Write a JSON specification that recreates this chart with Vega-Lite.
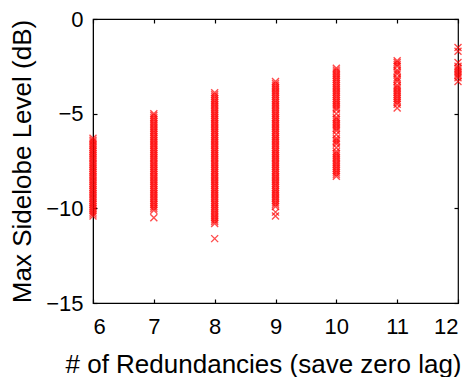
{
  "$schema": "https://vega.github.io/schema/vega-lite/v6.json",
  "width": 365,
  "height": 284,
  "autosize": {"type": "none"},
  "padding": {"left": 93, "top": 19, "right": 15, "bottom": 74},
  "background": "white",
  "data": {"values": [
    {"n":6,"v":-6.3},{"n":6,"v":-6.4},{"n":6,"v":-6.5},{"n":6,"v":-6.6},{"n":6,"v":-6.7},{"n":6,"v":-6.8},{"n":6,"v":-6.9},{"n":6,"v":-7.0},{"n":6,"v":-7.1},{"n":6,"v":-7.2},{"n":6,"v":-7.3},{"n":6,"v":-7.4},{"n":6,"v":-7.5},{"n":6,"v":-7.6},{"n":6,"v":-7.7},{"n":6,"v":-7.8},{"n":6,"v":-7.9},{"n":6,"v":-8.0},{"n":6,"v":-8.1},{"n":6,"v":-8.2},{"n":6,"v":-8.3},{"n":6,"v":-8.4},{"n":6,"v":-8.5},{"n":6,"v":-8.6},{"n":6,"v":-8.7},{"n":6,"v":-8.8},{"n":6,"v":-8.9},{"n":6,"v":-9.0},{"n":6,"v":-9.1},{"n":6,"v":-9.2},{"n":6,"v":-9.3},{"n":6,"v":-9.4},{"n":6,"v":-9.5},{"n":6,"v":-9.6},{"n":6,"v":-9.7},{"n":6,"v":-9.8},{"n":6,"v":-9.9},{"n":6,"v":-10.0},{"n":6,"v":-10.1},{"n":6,"v":-10.2},{"n":6,"v":-10.3},{"n":6,"v":-10.4},
    {"n":7,"v":-5.0},{"n":7,"v":-5.1},{"n":7,"v":-5.2},{"n":7,"v":-5.3},{"n":7,"v":-5.4},{"n":7,"v":-5.5},{"n":7,"v":-5.6},{"n":7,"v":-5.7},{"n":7,"v":-5.8},{"n":7,"v":-5.9},{"n":7,"v":-6.0},{"n":7,"v":-6.1},{"n":7,"v":-6.2},{"n":7,"v":-6.3},{"n":7,"v":-6.4},{"n":7,"v":-6.5},{"n":7,"v":-6.6},{"n":7,"v":-6.7},{"n":7,"v":-6.8},{"n":7,"v":-6.9},{"n":7,"v":-7.0},{"n":7,"v":-7.1},{"n":7,"v":-7.2},{"n":7,"v":-7.3},{"n":7,"v":-7.4},{"n":7,"v":-7.5},{"n":7,"v":-7.6},{"n":7,"v":-7.7},{"n":7,"v":-7.8},{"n":7,"v":-7.9},{"n":7,"v":-8.0},{"n":7,"v":-8.1},{"n":7,"v":-8.2},{"n":7,"v":-8.3},{"n":7,"v":-8.4},{"n":7,"v":-8.5},{"n":7,"v":-8.6},{"n":7,"v":-8.7},{"n":7,"v":-8.8},{"n":7,"v":-8.9},{"n":7,"v":-9.0},{"n":7,"v":-9.1},{"n":7,"v":-9.2},{"n":7,"v":-9.3},{"n":7,"v":-9.4},{"n":7,"v":-9.5},{"n":7,"v":-9.6},{"n":7,"v":-9.7},{"n":7,"v":-9.8},{"n":7,"v":-9.9},{"n":7,"v":-10.0},{"n":7,"v":-10.1},{"n":7,"v":-10.5},
    {"n":8,"v":-3.9},{"n":8,"v":-4.0},{"n":8,"v":-4.1},{"n":8,"v":-4.2},{"n":8,"v":-4.3},{"n":8,"v":-4.4},{"n":8,"v":-4.5},{"n":8,"v":-4.6},{"n":8,"v":-4.7},{"n":8,"v":-4.8},{"n":8,"v":-4.9},{"n":8,"v":-5.0},{"n":8,"v":-5.1},{"n":8,"v":-5.2},{"n":8,"v":-5.3},{"n":8,"v":-5.4},{"n":8,"v":-5.5},{"n":8,"v":-5.6},{"n":8,"v":-5.7},{"n":8,"v":-5.8},{"n":8,"v":-5.9},{"n":8,"v":-6.0},{"n":8,"v":-6.1},{"n":8,"v":-6.2},{"n":8,"v":-6.3},{"n":8,"v":-6.4},{"n":8,"v":-6.5},{"n":8,"v":-6.6},{"n":8,"v":-6.7},{"n":8,"v":-6.8},{"n":8,"v":-6.9},{"n":8,"v":-7.0},{"n":8,"v":-7.1},{"n":8,"v":-7.2},{"n":8,"v":-7.3},{"n":8,"v":-7.4},{"n":8,"v":-7.5},{"n":8,"v":-7.6},{"n":8,"v":-7.7},{"n":8,"v":-7.8},{"n":8,"v":-7.9},{"n":8,"v":-8.0},{"n":8,"v":-8.1},{"n":8,"v":-8.2},{"n":8,"v":-8.3},{"n":8,"v":-8.4},{"n":8,"v":-8.5},{"n":8,"v":-8.6},{"n":8,"v":-8.7},{"n":8,"v":-8.8},{"n":8,"v":-8.9},{"n":8,"v":-9.0},{"n":8,"v":-9.1},{"n":8,"v":-9.2},{"n":8,"v":-9.3},{"n":8,"v":-9.4},{"n":8,"v":-9.5},{"n":8,"v":-9.6},{"n":8,"v":-9.7},{"n":8,"v":-9.8},{"n":8,"v":-9.9},{"n":8,"v":-10.0},{"n":8,"v":-10.1},{"n":8,"v":-10.2},{"n":8,"v":-10.3},{"n":8,"v":-10.4},{"n":8,"v":-10.5},{"n":8,"v":-10.6},{"n":8,"v":-10.7},{"n":8,"v":-10.8},{"n":8,"v":-11.6},
    {"n":9,"v":-3.3},{"n":9,"v":-3.4},{"n":9,"v":-3.5},{"n":9,"v":-3.6},{"n":9,"v":-3.7},{"n":9,"v":-3.8},{"n":9,"v":-3.9},{"n":9,"v":-4.0},{"n":9,"v":-4.1},{"n":9,"v":-4.2},{"n":9,"v":-4.3},{"n":9,"v":-4.4},{"n":9,"v":-4.5},{"n":9,"v":-4.6},{"n":9,"v":-4.7},{"n":9,"v":-4.8},{"n":9,"v":-4.9},{"n":9,"v":-5.0},{"n":9,"v":-5.1},{"n":9,"v":-5.2},{"n":9,"v":-5.3},{"n":9,"v":-5.4},{"n":9,"v":-5.5},{"n":9,"v":-5.6},{"n":9,"v":-5.7},{"n":9,"v":-5.8},{"n":9,"v":-5.9},{"n":9,"v":-6.0},{"n":9,"v":-6.1},{"n":9,"v":-6.2},{"n":9,"v":-6.3},{"n":9,"v":-6.4},{"n":9,"v":-6.5},{"n":9,"v":-6.6},{"n":9,"v":-6.7},{"n":9,"v":-6.8},{"n":9,"v":-6.9},{"n":9,"v":-7.0},{"n":9,"v":-7.1},{"n":9,"v":-7.2},{"n":9,"v":-7.3},{"n":9,"v":-7.4},{"n":9,"v":-7.5},{"n":9,"v":-7.6},{"n":9,"v":-7.7},{"n":9,"v":-7.8},{"n":9,"v":-7.9},{"n":9,"v":-8.0},{"n":9,"v":-8.1},{"n":9,"v":-8.2},{"n":9,"v":-8.3},{"n":9,"v":-8.4},{"n":9,"v":-8.5},{"n":9,"v":-8.6},{"n":9,"v":-8.7},{"n":9,"v":-8.8},{"n":9,"v":-8.9},{"n":9,"v":-9.0},{"n":9,"v":-9.1},{"n":9,"v":-9.2},{"n":9,"v":-9.3},{"n":9,"v":-9.4},{"n":9,"v":-9.5},{"n":9,"v":-9.6},{"n":9,"v":-9.7},{"n":9,"v":-9.8},{"n":9,"v":-9.9},{"n":9,"v":-10.2},{"n":9,"v":-10.4},
    {"n":10,"v":-2.6},{"n":10,"v":-2.7},{"n":10,"v":-2.8},{"n":10,"v":-2.9},{"n":10,"v":-3.0},{"n":10,"v":-3.1},{"n":10,"v":-3.2},{"n":10,"v":-3.3},{"n":10,"v":-3.4},{"n":10,"v":-3.5},{"n":10,"v":-3.6},{"n":10,"v":-3.7},{"n":10,"v":-3.8},{"n":10,"v":-3.9},{"n":10,"v":-4.0},{"n":10,"v":-4.1},{"n":10,"v":-4.2},{"n":10,"v":-4.3},{"n":10,"v":-4.4},{"n":10,"v":-4.5},{"n":10,"v":-4.6},{"n":10,"v":-4.7},{"n":10,"v":-4.8},{"n":10,"v":-5.0},{"n":10,"v":-5.2},{"n":10,"v":-5.3},{"n":10,"v":-5.4},{"n":10,"v":-5.5},{"n":10,"v":-5.6},{"n":10,"v":-5.7},{"n":10,"v":-5.8},{"n":10,"v":-5.9},{"n":10,"v":-6.1},{"n":10,"v":-6.3},{"n":10,"v":-6.4},{"n":10,"v":-6.5},{"n":10,"v":-6.6},{"n":10,"v":-6.8},{"n":10,"v":-7.0},{"n":10,"v":-7.1},{"n":10,"v":-7.2},{"n":10,"v":-7.3},{"n":10,"v":-7.4},{"n":10,"v":-7.5},{"n":10,"v":-7.6},{"n":10,"v":-7.7},{"n":10,"v":-7.8},{"n":10,"v":-7.9},{"n":10,"v":-8.0},{"n":10,"v":-8.1},{"n":10,"v":-8.2},{"n":10,"v":-8.3},
    {"n":11,"v":-2.2},{"n":11,"v":-2.3},{"n":11,"v":-2.4},{"n":11,"v":-2.5},{"n":11,"v":-2.7},{"n":11,"v":-2.8},{"n":11,"v":-2.9},{"n":11,"v":-3.1},{"n":11,"v":-3.2},{"n":11,"v":-3.3},{"n":11,"v":-3.5},{"n":11,"v":-3.6},{"n":11,"v":-3.7},{"n":11,"v":-3.8},{"n":11,"v":-3.9},{"n":11,"v":-4.0},{"n":11,"v":-4.1},{"n":11,"v":-4.2},{"n":11,"v":-4.3},{"n":11,"v":-4.4},{"n":11,"v":-4.5},{"n":11,"v":-4.7},
    {"n":12,"v":-1.5},{"n":12,"v":-1.7},{"n":12,"v":-2.3},{"n":12,"v":-2.5},{"n":12,"v":-2.6},{"n":12,"v":-2.7},{"n":12,"v":-2.8},{"n":12,"v":-2.9},{"n":12,"v":-3.0},{"n":12,"v":-3.1},{"n":12,"v":-3.3}
  ]},
  "layer": [
    {
      "mark": {"type": "point", "shape": "M-1,-1L1,1M-1,1L1,-1", "filled": false, "stroke": "#ff0000", "strokeWidth": 1.4, "size": 49, "clip": false},
      "encoding": {
        "x": {"field": "n", "type": "quantitative", "scale": {"domain": [6, 12], "nice": false, "zero": false},
              "axis": {"values": [6, 7, 8, 9, 10, 11, 12], "format": "d", "ticks": false, "title": "# of Redundancies (save zero lag)", "labelPadding": 13, "titlePadding": 14, "titleFontSize": 26, "titleX": 170}},
        "y": {"field": "v", "type": "quantitative", "scale": {"domain": [-15, 0], "nice": false, "zero": false},
              "axis": {"values": [0, -5, -10, -15], "format": "d", "ticks": false, "title": "Max Sidelobe Level (dB)", "labelPadding": 10, "titlePadding": 10, "titleFontSize": 26}}
      }
    },
    {
      "mark": {"type": "point", "opacity": 0},
      "encoding": {
        "x": {"field": "n", "type": "quantitative", "axis": {"orient": "top", "values": [6, 7, 8, 9, 10, 11, 12], "labels": false, "title": null, "domain": false, "offset": -4, "tickSize": 4}},
        "y": {"field": "v", "type": "quantitative", "axis": {"orient": "right", "values": [0, -5, -10, -15], "labels": false, "title": null, "domain": false, "offset": -4, "tickSize": 4}}
      }
    },
    {
      "mark": {"type": "point", "opacity": 0},
      "encoding": {
        "x": {"field": "n", "type": "quantitative", "axis": {"orient": "bottom", "values": [6, 7, 8, 9, 10, 11, 12], "labels": false, "title": null, "domain": false, "offset": -4, "tickSize": 4}},
        "y": {"field": "v", "type": "quantitative", "axis": {"orient": "left", "values": [0, -5, -10, -15], "labels": false, "title": null, "domain": false, "offset": -4, "tickSize": 4}}
      }
    }
  ],
  "resolve": {"axis": {"x": "independent", "y": "independent"}},
  "config": {
    "view": {"stroke": "black", "strokeWidth": 1.2},
    "axis": {
      "grid": false,
      "domainColor": "black",
      "tickColor": "black",
      "tickWidth": 1.2,
      "labelColor": "black",
      "titleColor": "black",
      "labelFont": "Liberation Sans",
      "titleFont": "Liberation Sans",
      "labelFontSize": 22,
      "titleFontWeight": "normal"
    }
  }
}
